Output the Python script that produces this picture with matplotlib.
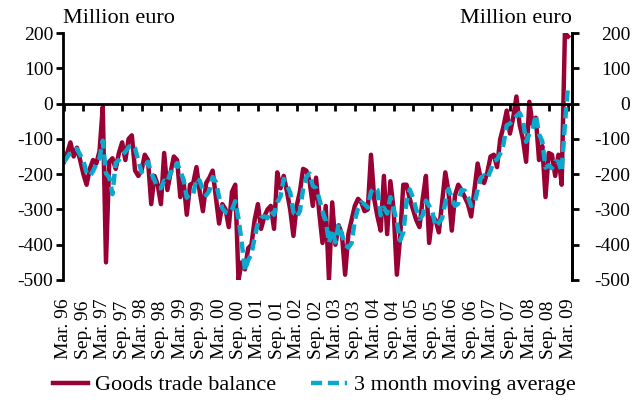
import matplotlib
matplotlib.use("Agg")
import matplotlib.pyplot as plt
import numpy as np
import pandas as pd

plt.rcParams["font.family"] = ["Liberation Serif", "DejaVu Serif"]

# monthly goods trade balance, Mar 96 .. Mar 09 (million euro)
balance = [
    -165, -140, -110, -150, -125, -160, -200, -230, -185, -160, -170, -135,  # Mar96-Feb97
    -10, -450, -165, -155, -185, -140, -110, -160, -100, -90, -190, -205,    # Mar97-Feb98
    -190, -145, -160, -285, -205, -230, -285, -140, -245, -195, -150, -160,  # Mar98-Feb99
    -265, -220, -315, -230, -225, -180, -250, -305, -225, -210, -190, -265,  # Mar99-Feb00
    -340, -285, -300, -350, -250, -230, -500, -450, -470, -410, -400, -330,  # Mar00-Feb01
    -285, -355, -320, -300, -290, -355, -195, -240, -205, -250, -300, -375,  # Mar01-Feb02
    -290, -250, -185, -190, -220, -290, -210, -310, -395, -290, -500, -280,  # Mar02-Feb03
    -400, -345, -370, -485, -370, -330, -290, -270, -280, -305, -300, -145,  # Mar03-Feb04
    -270, -320, -360, -205, -370, -220, -300, -485, -380, -230, -230, -270,  # Mar04-Feb05
    -300, -330, -350, -270, -205, -395, -320, -330, -365, -280, -195, -250,  # Mar05-Feb06
    -360, -260, -230, -245, -265, -285, -320, -245, -170, -215, -225, -195,  # Mar06-Feb07
    -150, -145, -180, -100, -65, -20, -85, -40, 20, -60, -100, -165,         # Mar07-Feb08
    5, -60, -40, -160, -120, -265, -140, -145, -205, -145, -230, 200,        # Mar08-Feb09
    190,                                                                     # Mar09
]
moving_avg = pd.Series(balance).rolling(3, min_periods=1).mean()

years = list(range(96, 100)) + list(range(0, 10))
tick_labels = []
for y in years:
    tick_labels.append(f"Mar. {y:02d}")
    tick_labels.append(f"Sep. {y:02d}")
tick_labels = tick_labels[:27]

y_ticks = [200, 100, 0, -100, -200, -300, -400, -500]

red = "#990033"
cyan = "#0AA8CC"

fig = plt.figure(figsize=(6.43, 4.03), dpi=100)
ax = fig.add_axes([63 / 643, 1 - 280 / 403, 509 / 643, 247 / 403])

x = np.arange(len(balance))
ax.plot(x, balance, color=red, lw=3.2, solid_joinstyle="round", label="Goods trade balance")
ln, = ax.plot(x, moving_avg, color=cyan, lw=3.2, label="3 month moving average")
ln.set_dashes([2.5, 1.3])

ax.set_xlim(-0.3, 157.2)
ax.set_ylim(-500, 200)

# zero line carries the date ticks
ax.spines["bottom"].set_position(("data", 0))
ax.spines["top"].set_visible(False)
for s in ["left", "right", "bottom"]:
    ax.spines[s].set_linewidth(2.0)
ax.set_xticks(np.arange(0, 157, 6))
ax.tick_params(axis="x", direction="out", length=5, width=2, labelbottom=False)

ax.set_yticks(y_ticks)
ax.set_yticklabels([str(v) for v in y_ticks])
ax.tick_params(axis="y", direction="out", length=5, width=2, labelsize=14, pad=2)

# right-hand scale, labels right-aligned
ax2 = ax.twinx()
ax2.set_ylim(ax.get_ylim())
ax2.set_yticks(y_ticks)
ax2.set_yticklabels([str(v) for v in y_ticks], ha="right")
ax2.tick_params(axis="y", direction="out", length=5, width=2, labelsize=14, pad=37)
for s in ["left", "top", "bottom"]:
    ax2.spines[s].set_visible(False)
ax2.spines["right"].set_linewidth(2.0)

# date labels sit below the plot, text starting at a common baseline
sec = ax.secondary_xaxis("bottom")
sec.spines["bottom"].set_visible(False)
sec.set_xticks(np.arange(0, 157, 6))
sec.set_xticklabels(tick_labels, rotation=90, fontsize=14, va="bottom")
sec.tick_params(length=0, pad=57)

ax.text(0, 1 + 10 / 247, "Million euro", transform=ax.transAxes, ha="left",
        va="baseline", fontsize=16)
ax.text(1, 1 + 10 / 247, "Million euro", transform=ax.transAxes, ha="right",
        va="baseline", fontsize=16)

fig.legend(loc="center", bbox_to_anchor=(314 / 643, 1 - 385 / 403), ncol=2,
           frameon=False, fontsize=16, handlelength=1.6, handletextpad=0.3,
           columnspacing=1.6, borderaxespad=0)

fig.savefig("out.png", dpi=100)
